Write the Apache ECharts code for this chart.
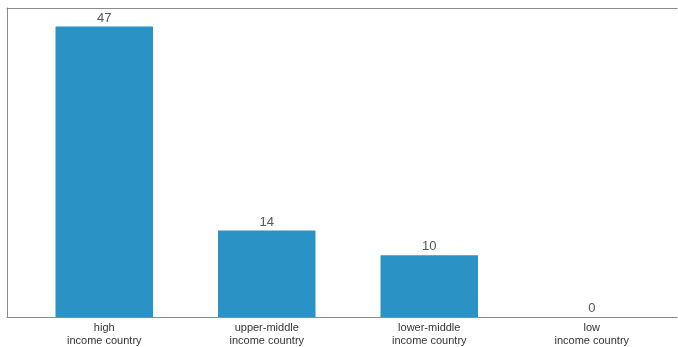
<!DOCTYPE html>
<html>
<head>
<meta charset="utf-8">
<style>
  html, body { margin: 0; padding: 0; background: #fff; }
  #chart { width: 678px; height: 347px; }
</style>
<script src="https://cdn.jsdelivr.net/npm/echarts@6/dist/echarts.min.js"></script>
</head>
<body>
<div id="chart"></div>
<script>
// Number of entries per income group
const categories = ['high\nincome country', 'upper-middle\nincome country', 'lower-middle\nincome country', 'low\nincome country'];
const counts = [47, 14, 10, 0];

const chart = echarts.init(document.getElementById('chart'), null, { renderer: 'canvas' });

const frameColor = '#8a8a8a';

chart.setOption({
  animation: false,
  backgroundColor: '#fff',
  textStyle: { fontFamily: 'Liberation Sans, Arial, sans-serif' },
  grid: [
    { left: 23, right: 5, top: 8, bottom: 30 },
    // outer frame around the plotting area
    { left: 7, right: 1, top: 8, bottom: 30 }
  ],
  xAxis: [
    {
      type: 'category',
      gridIndex: 0,
      data: categories,
      axisLine: { show: false },
      axisTick: { show: false },
      axisLabel: { color: '#333', fontSize: 11, lineHeight: 13, margin: 4 }
    },
    {
      type: 'value',
      gridIndex: 1,
      min: 0, max: 1,
      axisLine: { show: true, lineStyle: { color: frameColor, width: 1 } },
      axisTick: { show: false },
      axisLabel: { show: false },
      splitLine: { show: false }
    },
    {
      type: 'value',
      gridIndex: 1,
      position: 'top',
      min: 0, max: 1,
      axisLine: { show: true, lineStyle: { color: frameColor, width: 1 } },
      axisTick: { show: false },
      axisLabel: { show: false },
      splitLine: { show: false }
    }
  ],
  yAxis: [
    {
      type: 'value',
      gridIndex: 0,
      min: 0,
      max: 50,
      show: false
    },
    {
      type: 'value',
      gridIndex: 1,
      min: 0, max: 1,
      axisLine: { show: true, lineStyle: { color: frameColor, width: 1 } },
      axisTick: { show: false },
      axisLabel: { show: false },
      splitLine: { show: false }
    }
  ],
  series: [
    {
      type: 'bar',
      xAxisIndex: 0,
      yAxisIndex: 0,
      data: counts,
      barWidth: '60%',
      itemStyle: { color: '#2a92c4' },
      label: {
        show: true,
        position: 'top',
        distance: 2,
        color: '#555',
        fontSize: 13
      }
    }
  ]
});
</script>
</body>
</html>
